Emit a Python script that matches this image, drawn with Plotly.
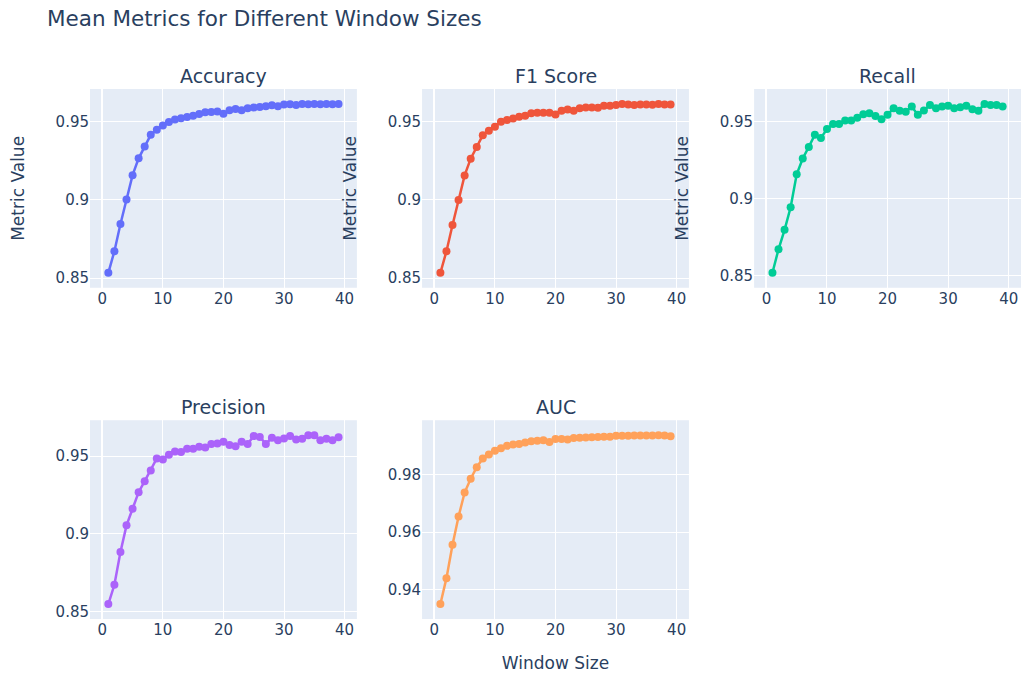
import plotly.graph_objects as go
from plotly.subplots import make_subplots

window_sizes = list(range(1, 40))

accuracy = [0.8534, 0.8672, 0.8845, 0.9002, 0.9157, 0.9264, 0.9339, 0.9414, 0.9446, 0.9474,
            0.9496, 0.9511, 0.9519, 0.9528, 0.9536, 0.9547, 0.9558, 0.9560, 0.9562, 0.9549,
            0.9571, 0.9579, 0.9571, 0.9584, 0.9588, 0.9592, 0.9597, 0.9603, 0.9597, 0.9607,
            0.9609, 0.9605, 0.9611, 0.9609, 0.9611, 0.9609, 0.9611, 0.9609, 0.9611]

f1_score = [0.8534, 0.8672, 0.8840, 0.9000, 0.9157, 0.9264, 0.9339, 0.9414, 0.9442, 0.9468,
            0.9500, 0.9511, 0.9521, 0.9532, 0.9539, 0.9554, 0.9558, 0.9558, 0.9558, 0.9547,
            0.9571, 0.9579, 0.9571, 0.9586, 0.9592, 0.9592, 0.9590, 0.9603, 0.9603, 0.9607,
            0.9614, 0.9611, 0.9607, 0.9611, 0.9611, 0.9609, 0.9614, 0.9611, 0.9611]

recall = [0.8517, 0.8670, 0.8796, 0.8943, 0.9157, 0.9260, 0.9335, 0.9414, 0.9393, 0.9451,
          0.9483, 0.9483, 0.9506, 0.9506, 0.9524, 0.9547, 0.9554, 0.9536, 0.9515, 0.9543,
          0.9586, 0.9569, 0.9564, 0.9597, 0.9543, 0.9571, 0.9607, 0.9586, 0.9597, 0.9603,
          0.9586, 0.9592, 0.9603, 0.9579, 0.9569, 0.9614, 0.9607, 0.9607, 0.9597]

precision = [0.8547, 0.8671, 0.8882, 0.9054, 0.9161, 0.9268, 0.9339, 0.9408, 0.9485, 0.9479,
             0.9509, 0.9530, 0.9526, 0.9547, 0.9547, 0.9560, 0.9556, 0.9579, 0.9582, 0.9592,
             0.9571, 0.9564, 0.9592, 0.9579, 0.9629, 0.9624, 0.9579, 0.9618, 0.9603, 0.9614,
             0.9629, 0.9607, 0.9612, 0.9635, 0.9635, 0.9603, 0.9612, 0.9603, 0.9622]

auc = [0.9350, 0.9440, 0.9556, 0.9654, 0.9737, 0.9785, 0.9825, 0.9855, 0.9869, 0.9882,
       0.9891, 0.9899, 0.9904, 0.9905, 0.9911, 0.9915, 0.9917, 0.9918, 0.9912, 0.9923,
       0.9923, 0.9921, 0.9926, 0.9927, 0.9928, 0.9929, 0.9930, 0.9931, 0.9931, 0.9934,
       0.9934, 0.9934, 0.9935, 0.9935, 0.9935, 0.9935, 0.9936, 0.9935, 0.9932]

metric_names = ["Accuracy", "F1 Score", "Recall", "Precision", "AUC"]
metric_values = [accuracy, f1_score, recall, precision, auc]
colors = ["#636efa", "#EF553B", "#00cc96", "#ab63fa", "#FFA15A"]
positions = [(1, 1), (1, 2), (1, 3), (2, 1), (2, 2)]

FONT = "DejaVu Sans"

fig = make_subplots(rows=2, cols=3, subplot_titles=metric_names,
                    horizontal_spacing=0.07, vertical_spacing=0.25)

for name, vals, color, (r, c) in zip(metric_names, metric_values, colors, positions):
    fig.add_trace(go.Scatter(x=window_sizes, y=vals, mode="lines+markers", name=name,
                             line=dict(color=color, width=2.5),
                             marker=dict(color=color, size=8)),
                  row=r, col=c)

for c in (1, 2, 3):
    fig.update_yaxes(title_text="Metric Value", title_font=dict(size=17), title_standoff=26,
                     row=1, col=c)
fig.update_xaxes(title_text="Window Size", title_font=dict(size=17), title_standoff=20,
                 row=2, col=2)

fig.update_xaxes(tickfont=dict(size=15), gridwidth=1.25)
fig.update_yaxes(tickfont=dict(size=15), gridwidth=1.25)
fig.update_annotations(font=dict(size=19, family=FONT))

fig.update_layout(
    width=1021, height=673,
    template="plotly",
    font=dict(family=FONT),
    showlegend=False,
    title=dict(text="Mean Metrics for Different Window Sizes", font=dict(size=21.5),
               x=47 / 1021, xanchor="left", xref="container",
               y=1 - 18 / 673, yanchor="middle", yref="container"),
    margin=dict(l=90, r=0, t=89, b=54),
)

fig.write_html("out.html", config={"displayModeBar": False},
               post_script="document.body.style.margin='0';document.body.style.overflow='hidden';")
